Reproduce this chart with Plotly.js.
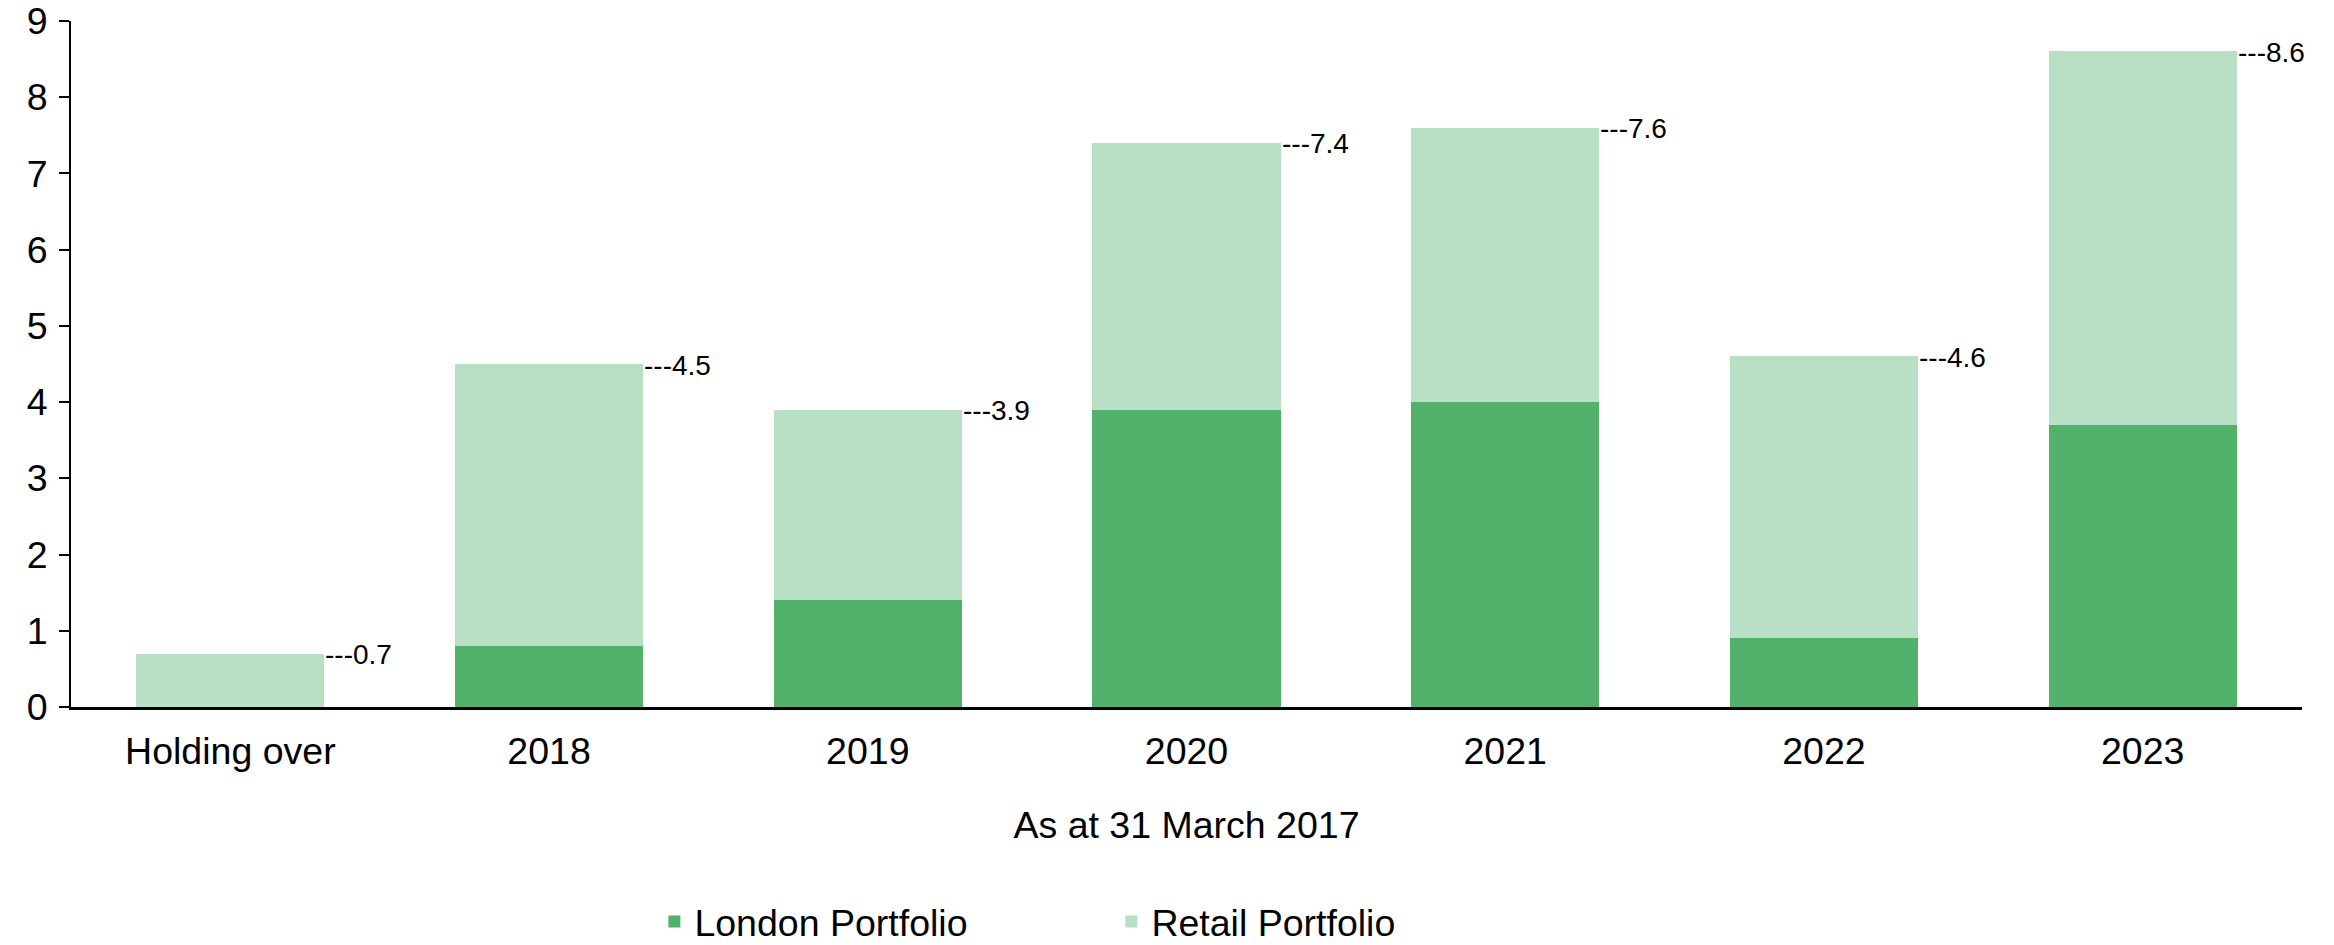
<!DOCTYPE html>
<html>
<head>
<meta charset="utf-8">
<script src="https://cdn.plot.ly/plotly-3.0.1.min.js"></script>
<style>
html,body{margin:0;padding:0;background:#fff;}
#chart{width:2334px;height:945px;}
</style>
</head>
<body>
<div id="chart"></div>
<script>
const categories = ["Holding over", "2018", "2019", "2020", "2021", "2022", "2023"];
const londonValues = [0, 0.8, 1.4, 3.9, 4.0, 0.9, 3.7];
const retailValues = [0.7, 3.7, 2.5, 3.5, 3.6, 3.7, 4.9];
const totalLabels = [0.7, 4.5, 3.9, 7.4, 7.6, 4.6, 8.6];
const yTicks = [0, 1, 2, 3, 4, 5, 6, 7, 8, 9];

const FONT = "Liberation Sans, Arial, sans-serif";

const traces = [
  {
    type: "bar", name: "London Portfolio", x: categories, y: londonValues,
    marker: {color: "#52b16b"}, hoverinfo: "x+y"
  },
  {
    type: "bar", name: "Retail Portfolio", x: categories, y: retailValues,
    marker: {color: "#b9e0c4"}, hoverinfo: "x+y"
  }
];

// annotation x uses the category's index on the category axis
const annotations = categories.map((c, i) => ({
  x: i, y: totalLabels[i], xref: "x", yref: "y",
  text: "---" + totalLabels[i].toFixed(1),
  showarrow: false, xanchor: "left", yanchor: "middle",
  xshift: 93, yshift: -1,
  font: {family: FONT, size: 28, color: "#000"}
}));

const layout = {
  width: 2334, height: 945,
  margin: {l: 71, r: 32, t: 21, b: 238, autoexpand: false},
  paper_bgcolor: "#fff", plot_bgcolor: "#fff",
  barmode: "stack", bargap: 0.41,
  font: {family: FONT, color: "#000"},
  xaxis: {
    type: "category", categoryorder: "array", categoryarray: categories,
    range: [-0.5, categories.length - 0.5], automargin: false,
    showline: true, linecolor: "#000", linewidth: 3,
    ticks: "", showgrid: false, zeroline: false,
    tickfont: {family: FONT, size: 37.5, color: "#000"},
    ticklabelstandoff: 9,
    title: {text: "As at 31 March 2017", font: {family: FONT, size: 37.5, color: "#000"}, standoff: 41}
  },
  yaxis: {
    range: [0, 9], tickvals: yTicks, showline: true, linecolor: "#000", linewidth: 2,
    ticks: "outside", ticklen: 10, tickwidth: 2, tickcolor: "#000",
    showgrid: false, zeroline: false, automargin: false,
    tickfont: {family: FONT, size: 37.5, color: "#000"},
    ticklabelstandoff: 4
  },
  showlegend: true,
  legend: {
    orientation: "h", x: 0.2615, xanchor: "left", y: -0.313, yanchor: "middle",
    font: {family: FONT, size: 37.5, color: "#000"},
    entrywidth: 412, entrywidthmode: "pixels", traceorder: "normal",
    bgcolor: "rgba(0,0,0,0)"
  },
  annotations: annotations
};

Plotly.newPlot("chart", traces, layout, {displayModeBar: false, staticPlot: true});
</script>
</body>
</html>
